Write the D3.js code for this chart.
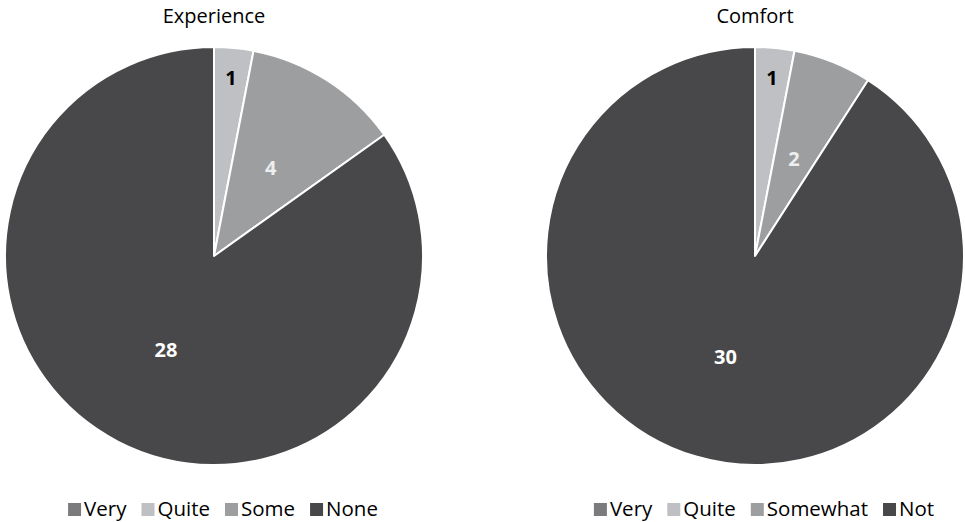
<!DOCTYPE html>
<html><head><meta charset="utf-8">
<script src="https://cdn.jsdelivr.net/npm/d3@7"></script>
<style>body{margin:0;background:#fff}svg{display:block}</style>
</head><body>
<svg id="c" width="965" height="522"></svg>
<script>
const expCategories = ["Very","Quite","Some","None"];
const expValues = [0,1,4,28];
const comCategories = ["Very","Quite","Somewhat","Not"];
const comValues = [0,1,2,30];
const titles = ["Experience","Comfort"];
const colors = ["#7b7b7d","#bfc0c3","#9d9ea0","#48484a"];
const labelColors = ["#000","#000","#eeeeee","#ffffff"];

const svg = d3.select("#c");
const font = "'Open Sans', sans-serif";
const R = 209;
const charts = [
  {cats: expCategories, vals: expValues, cx: 214, title: titles[0]},
  {cats: comCategories, vals: comValues, cx: 755, title: titles[1]}
];
const pie = d3.pie().sort(null).value(d=>d);
const arc = d3.arc().innerRadius(0).outerRadius(R);
charts.forEach(ch=>{
  const g = svg.append("g").attr("transform",`translate(${ch.cx},256)`);
  const arcs = pie(ch.vals);
  g.selectAll("path").data(arcs).join("path")
    .attr("d",arc).attr("fill",(d,i)=>colors[i])
    .attr("stroke","#fff").attr("stroke-width",2).attr("stroke-linejoin","round");
  g.selectAll("text.lab").data(arcs.filter(d=>d.value>0)).join("text")
    .attr("class","lab")
    .attr("transform",d=>{
      const a=(d.startAngle+d.endAngle)/2;
      const r = (d.endAngle-d.startAngle) < 0.26 ? 179 : 105;
      return `translate(${Math.sin(a)*r},${-Math.cos(a)*r})`;
    })
    .attr("text-anchor","middle").attr("dy","0.36em")
    .attr("font-family",font).attr("font-weight","bold").attr("font-size",20)
    .attr("fill",d=>labelColors[d.index])
    .text(d=>d.value);
  svg.append("text").attr("x",ch.cx).attr("y",23).attr("text-anchor","middle")
    .attr("font-family",font).attr("font-size",20).attr("fill","#000").text(ch.title);
  // legend
  let x = 0;
  const lg = svg.append("g");
  ch.cats.forEach((c,i)=>{
    lg.append("rect").attr("x",x).attr("y",503).attr("width",13).attr("height",13).attr("fill",colors[i]);
    const t = lg.append("text").attr("x",x+16).attr("y",516)
      .attr("font-family",font).attr("font-size",20.5).attr("fill","#000").text(c);
    x += 16 + t.node().getComputedTextLength() + (i < ch.cats.length-1 ? 15 : 0);
  });
  lg.attr("transform",`translate(${ch.cx + 9 - x/2},0)`);
});
</script>
</body></html>
